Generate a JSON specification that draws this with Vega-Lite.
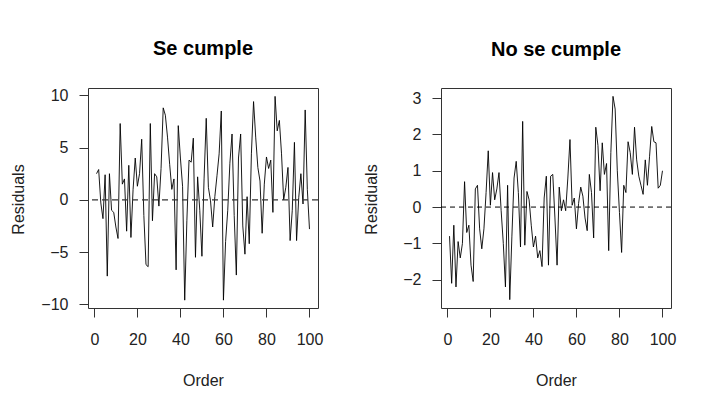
{
  "$schema": "https://vega.github.io/schema/vega-lite/v6.json",
  "padding": {"left": 9, "top": 38, "right": 5, "bottom": 5},
  "background": "white",
  "spacing": 38,
  "datasets": {
    "se": [
      {"order":1,"res":2.5},{"order":2,"res":2.9},{"order":3,"res":-0.3},{"order":4,"res":-1.8},{"order":5,"res":2.4},
      {"order":6,"res":-7.3},{"order":7,"res":2.5},{"order":8,"res":-1.0},{"order":9,"res":-1.2},{"order":10,"res":-2.6},
      {"order":11,"res":-3.7},{"order":12,"res":7.3},{"order":13,"res":1.5},{"order":14,"res":2.0},{"order":15,"res":-3.0},
      {"order":16,"res":3.3},{"order":17,"res":-3.6},{"order":18,"res":1.0},{"order":19,"res":4.0},{"order":20,"res":1.3},
      {"order":21,"res":2.5},{"order":22,"res":5.8},{"order":23,"res":-1.5},{"order":24,"res":-6.2},{"order":25,"res":-6.4},
      {"order":26,"res":7.3},{"order":27,"res":-2.0},{"order":28,"res":2.5},{"order":29,"res":2.2},{"order":30,"res":-0.6},
      {"order":31,"res":3.0},{"order":32,"res":8.8},{"order":33,"res":8.1},{"order":34,"res":6.0},{"order":35,"res":3.4},
      {"order":36,"res":1.0},{"order":37,"res":2.0},{"order":38,"res":-6.7},{"order":39,"res":7.1},{"order":40,"res":4.0},
      {"order":41,"res":1.3},{"order":42,"res":-9.6},{"order":43,"res":-2.0},{"order":44,"res":3.8},{"order":45,"res":3.6},
      {"order":46,"res":5.9},{"order":47,"res":-5.5},{"order":48,"res":2.2},{"order":49,"res":-1.0},{"order":50,"res":-5.4},
      {"order":51,"res":2.0},{"order":52,"res":7.8},{"order":53,"res":1.2},{"order":54,"res":-0.1},{"order":55,"res":-2.6},
      {"order":56,"res":0.3},{"order":57,"res":2.3},{"order":58,"res":4.4},{"order":59,"res":8.5},{"order":60,"res":-9.6},
      {"order":61,"res":-4.0},{"order":62,"res":-1.0},{"order":63,"res":3.5},{"order":64,"res":6.3},{"order":65,"res":-1.5},
      {"order":66,"res":-7.2},{"order":67,"res":4.0},{"order":68,"res":6.3},{"order":69,"res":-2.5},{"order":70,"res":-5.2},
      {"order":71,"res":0.3},{"order":72,"res":-4.2},{"order":73,"res":4.4},{"order":74,"res":9.4},{"order":75,"res":6.0},
      {"order":76,"res":3.1},{"order":77,"res":1.8},{"order":78,"res":-3.2},{"order":79,"res":1.5},{"order":80,"res":4.1},
      {"order":81,"res":3.0},{"order":82,"res":3.8},{"order":83,"res":-1.2},{"order":84,"res":9.9},{"order":85,"res":6.6},
      {"order":86,"res":7.6},{"order":87,"res":4.4},{"order":88,"res":0.0},{"order":89,"res":1.2},{"order":90,"res":3.1},
      {"order":91,"res":-3.9},{"order":92,"res":-1.0},{"order":93,"res":5.5},{"order":94,"res":-3.9},{"order":95,"res":0.2},
      {"order":96,"res":2.5},{"order":97,"res":-0.4},{"order":98,"res":8.6},{"order":99,"res":1.0},{"order":100,"res":-2.8}
    ],
    "no": [
      {"order":1,"res":-0.8},{"order":2,"res":-2.1},{"order":3,"res":-0.5},{"order":4,"res":-2.2},{"order":5,"res":-0.95},
      {"order":6,"res":-1.4},{"order":7,"res":-1.0},{"order":8,"res":0.7},{"order":9,"res":-0.7},{"order":10,"res":-0.5},
      {"order":11,"res":-1.6},{"order":12,"res":-2.05},{"order":13,"res":0.5},{"order":14,"res":0.6},{"order":15,"res":-0.6},
      {"order":16,"res":-1.15},{"order":17,"res":-0.6},{"order":18,"res":0.4},{"order":19,"res":1.55},{"order":20,"res":0.05},
      {"order":21,"res":0.95},{"order":22,"res":0.2},{"order":23,"res":0.5},{"order":24,"res":0.95},{"order":25,"res":-0.1},
      {"order":26,"res":-1.0},{"order":27,"res":-2.2},{"order":28,"res":0.6},{"order":29,"res":-2.55},{"order":30,"res":-0.8},
      {"order":31,"res":0.8},{"order":32,"res":1.26},{"order":33,"res":0.4},{"order":34,"res":-1.1},{"order":35,"res":2.36},
      {"order":36,"res":-1.05},{"order":37,"res":0.43},{"order":38,"res":0.2},{"order":39,"res":-0.5},{"order":40,"res":-1.1},
      {"order":41,"res":-0.8},{"order":42,"res":-1.4},{"order":43,"res":-1.2},{"order":44,"res":-1.64},{"order":45,"res":0.25},
      {"order":46,"res":0.85},{"order":47,"res":-1.6},{"order":48,"res":0.85},{"order":49,"res":0.9},{"order":50,"res":-0.3},
      {"order":51,"res":-1.6},{"order":52,"res":0.55},{"order":53,"res":-0.1},{"order":54,"res":0.2},{"order":55,"res":-0.1},
      {"order":56,"res":0.8},{"order":57,"res":1.86},{"order":58,"res":0.05},{"order":59,"res":0.25},{"order":60,"res":-0.6},
      {"order":61,"res":0.1},{"order":62,"res":0.55},{"order":63,"res":0.3},{"order":64,"res":-0.3},{"order":65,"res":-0.65},
      {"order":66,"res":0.9},{"order":67,"res":0.4},{"order":68,"res":-0.85},{"order":69,"res":2.2},{"order":70,"res":1.7},
      {"order":71,"res":0.45},{"order":72,"res":1.77},{"order":73,"res":0.9},{"order":74,"res":1.2},{"order":75,"res":-1.2},
      {"order":76,"res":1.5},{"order":77,"res":3.05},{"order":78,"res":2.7},{"order":79,"res":1.0},{"order":80,"res":-0.15},
      {"order":81,"res":-1.25},{"order":82,"res":0.6},{"order":83,"res":0.4},{"order":84,"res":1.8},{"order":85,"res":1.5},
      {"order":86,"res":0.9},{"order":87,"res":2.2},{"order":88,"res":1.3},{"order":89,"res":0.85},{"order":90,"res":0.6},
      {"order":91,"res":0.35},{"order":92,"res":1.3},{"order":93,"res":0.6},{"order":94,"res":1.4},{"order":95,"res":2.22},
      {"order":96,"res":1.8},{"order":97,"res":1.77},{"order":98,"res":0.52},{"order":99,"res":0.6},{"order":100,"res":1.0}
    ]
  },
  "hconcat": [
    {
      "title": "Se cumple",
      "width": 230,
      "height": 220,
      "layer": [
        {
          "data": {"name": "se"},
          "mark": {"type": "line", "color": "#000000", "strokeWidth": 0.9},
          "encoding": {
            "x": {"field": "order", "type": "quantitative", "scale": {"domain": [-2.96, 103.96], "nice": false, "zero": false},
                  "axis": {"title": "Order", "values": [0, 20, 40, 60, 80, 100], "titleY": 72}},
            "y": {"field": "res", "type": "quantitative", "scale": {"domain": [-10.35, 10.7], "nice": false, "zero": false},
                  "axis": {"title": "Residuals", "values": [-10, -5, 0, 5, 10], "titleX": -70, "titleY": 111}}
          }
        },
        {
          "data": {"values": [{"ref": 0}]},
          "mark": {"type": "rule", "color": "#333333", "strokeWidth": 1.2, "strokeDash": [6, 4]},
          "encoding": {"y": {"field": "ref", "type": "quantitative"}}
        }
      ]
    },
    {
      "title": "No se cumple",
      "width": 230,
      "height": 220,
      "layer": [
        {
          "data": {"name": "no"},
          "mark": {"type": "line", "color": "#000000", "strokeWidth": 0.9},
          "encoding": {
            "x": {"field": "order", "type": "quantitative", "scale": {"domain": [-2.96, 103.96], "nice": false, "zero": false},
                  "axis": {"title": "Order", "values": [0, 20, 40, 60, 80, 100], "titleY": 72}},
            "y": {"field": "res", "type": "quantitative", "scale": {"domain": [-2.78, 3.28], "nice": false, "zero": false},
                  "axis": {"title": "Residuals", "values": [-2, -1, 0, 1, 2, 3], "titleX": -70, "titleY": 111}}
          }
        },
        {
          "data": {"values": [{"ref": 0}]},
          "mark": {"type": "rule", "color": "#000000", "strokeWidth": 1, "strokeDash": [5, 4]},
          "encoding": {"y": {"field": "ref", "type": "quantitative"}}
        }
      ]
    }
  ],
  "config": {
    "font": "Liberation Sans",
    "view": {"stroke": "#333333", "strokeWidth": 1},
    "title": {"fontSize": 20, "fontWeight": "bold", "color": "#000000", "anchor": "middle", "offset": 28, "font": "Liberation Sans"},
    "axis": {
      "domain": false,
      "grid": false,
      "ticks": true,
      "tickSize": 9,
      "tickColor": "#333333",
      "labelFontSize": 16,
      "labelColor": "#222222",
      "labelPadding": 11,
      "labelFlush": false,
      "labelOverlap": false,
      "titleFontSize": 16,
      "titleFontWeight": "normal",
      "titleColor": "#222222",
      "titleBaseline": "middle"
    },
    "axisX": {"labelPadding": 14}
  }
}
